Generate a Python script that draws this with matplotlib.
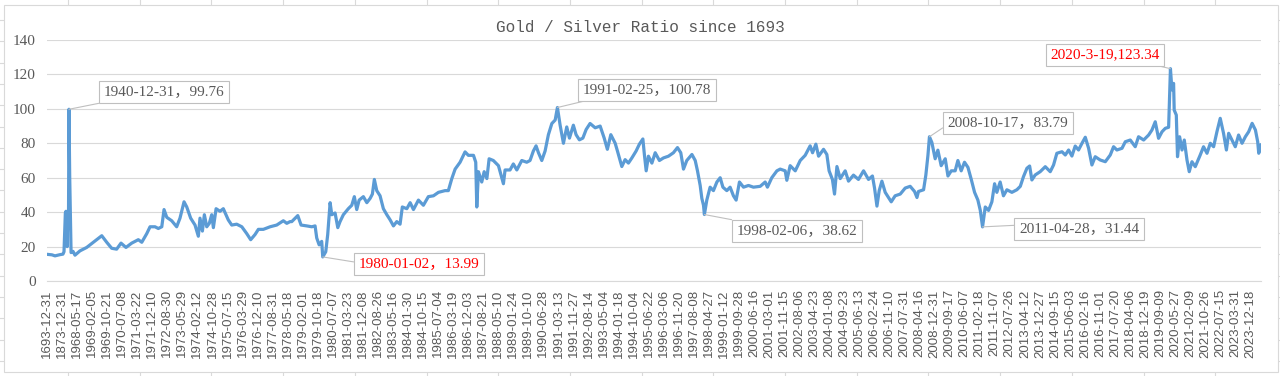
import matplotlib
matplotlib.use('Agg')
import matplotlib.pyplot as plt
from matplotlib.lines import Line2D
from matplotlib.patches import Rectangle


W, H = 1280, 376

# ~~~~~~ Data ~~~~~~~~~~~~~~~~~~~~~~~~~~~~~~~~~~~~~~~~~~~~~~~~~~~~~~~~~~~~~~~~~

tick_dates = [
    '1693-12-31', '1873-12-31', '1968-05-17', '1969-02-05', '1969-10-21',
    '1970-07-08', '1971-03-22', '1971-12-10', '1972-08-30', '1973-05-29',
    '1974-02-12', '1974-10-28', '1975-07-15', '1976-03-29', '1976-12-10',
    '1977-08-31', '1978-05-18', '1979-02-01', '1979-10-18', '1980-07-07',
    '1981-03-23', '1981-12-08', '1982-08-26', '1983-05-16', '1984-01-30',
    '1984-10-15', '1985-07-04', '1986-03-19', '1986-12-03', '1987-08-21',
    '1988-05-10', '1989-01-24', '1989-10-10', '1990-06-28', '1991-03-13',
    '1991-11-27', '1992-08-14', '1993-05-04', '1994-01-18', '1994-10-04',
    '1995-06-22', '1996-03-06', '1996-11-20', '1997-08-08', '1998-04-27',
    '1999-01-12', '1999-09-28', '2000-06-16', '2001-03-01', '2001-11-15',
    '2002-08-06', '2003-04-23', '2004-01-08', '2004-09-23', '2005-06-13',
    '2006-02-24', '2006-11-10', '2007-07-31', '2008-04-16', '2008-12-31',
    '2009-09-17', '2010-06-07', '2011-02-18', '2011-11-07', '2012-07-26',
    '2013-04-12', '2013-12-27', '2014-09-15', '2015-06-03', '2016-02-16',
    '2016-11-01', '2017-07-20', '2018-04-06', '2018-12-19', '2019-09-09',
    '2020-05-27', '2021-02-09', '2021-10-26', '2022-07-15', '2023-03-31',
    '2023-12-18',
]

# position on the category axis (in units of tick labels) and ratio value
pos = [
    0, 0.33, 0.53, 0.86, 1.06, 1.13, 1.22, 1.26, 1.31, 1.34, 1.38, 1.43, 1.46,
    1.51, 1.55, 1.60, 1.73, 1.86, 2.19, 2.64, 3.08, 3.64, 3.97, 4.30, 4.63,
    4.92, 5.25, 5.63, 6.07, 6.30, 6.63, 6.85, 7.18, 7.40, 7.63, 7.78, 7.96,
    8.29, 8.62, 8.84, 9.11, 9.29, 9.55, 9.84, 10.06, 10.17, 10.33, 10.46,
    10.62, 10.79, 10.95, 11.06, 11.24, 11.50, 11.72, 12.05, 12.28, 12.61,
    12.95, 13.28, 13.54, 13.83, 14.05, 14.38, 14.83, 15.27, 15.71, 15.94,
    16.16, 16.27, 16.67, 16.89, 17.27, 17.60, 17.82, 17.93, 18.09, 18.26,
    18.33, 18.53, 18.66, 18.82, 18.93, 19.15, 19.33, 19.48, 19.70, 20.03,
    20.26, 20.43, 20.59, 20.75, 21.03, 21.26, 21.48, 21.63, 21.76, 21.92,
    22.14, 22.36, 22.59, 22.81, 23.03, 23.25, 23.47, 23.62, 23.92, 24.14,
    24.36, 24.69, 25.02, 25.35, 25.69, 26.02, 26.46, 26.68, 26.91, 27.13,
    27.46, 27.79, 28.01, 28.35, 28.50, 28.57, 28.68, 28.90, 29.06, 29.24,
    29.39, 29.67, 30.01, 30.34, 30.45, 30.78, 31.00, 31.23, 31.56, 31.89,
    32.11, 32.33, 32.51, 32.67, 32.89, 33.11, 33.33, 33.56, 33.78, 33.93,
    34.11, 34.33, 34.55, 34.73, 34.99, 35.17, 35.39, 35.62, 35.84, 36.10,
    36.44, 36.77, 37.04, 37.25, 37.48, 37.77, 37.92, 38.21, 38.43, 38.65,
    38.88, 39.16, 39.38, 39.61, 39.71, 39.83, 39.98, 40.21, 40.43, 40.71,
    40.98, 41.31, 41.64, 41.91, 42.13, 42.31, 42.53, 42.87, 43.09, 43.24,
    43.42, 43.53, 43.64, 43.70, 43.86, 44.08, 44.30, 44.53, 44.75, 44.93,
    45.19, 45.41, 45.63, 45.81, 46.03, 46.30, 46.63, 46.96, 47.41, 47.74,
    47.89, 48.18, 48.52, 48.74, 49.07, 49.18, 49.40, 49.74, 50.07, 50.40,
    50.73, 50.89, 51.11, 51.29, 51.62, 51.84, 51.99, 52.21, 52.35, 52.51,
    52.73, 53.06, 53.28, 53.61, 53.94, 54.28, 54.61, 54.87, 55.01, 55.17,
    55.32, 55.50, 55.72, 55.94, 56.12, 56.38, 56.72, 57.05, 57.38, 57.67,
    57.83, 57.93, 58.27, 58.42, 58.56, 58.66, 58.82, 59.04, 59.22, 59.44,
    59.71, 59.89, 60.11, 60.37, 60.55, 60.77, 60.99, 61.22, 61.44, 61.66,
    61.88, 62.04, 62.19, 62.37, 62.59, 62.81, 62.99, 63.14, 63.36, 63.58,
    63.81, 64.14, 64.47, 64.70, 64.91, 65.14, 65.32, 65.47, 65.69, 66.02,
    66.36, 66.69, 66.91, 67.13, 67.47, 67.69, 67.91, 68.13, 68.35, 68.57,
    68.80, 69.02, 69.24, 69.46, 69.68, 70.01, 70.35, 70.68, 70.90, 71.12,
    71.46, 71.68, 72.01, 72.34, 72.56, 72.90, 73.23, 73.45, 73.67, 73.89,
    74.12, 74.34, 74.56, 74.68, 74.78, 74.89, 74.93, 75.07, 75.15, 75.29,
    75.45, 75.60, 75.78, 75.93, 76.11, 76.33, 76.66, 76.88, 77.11, 77.33,
    77.55, 77.77, 77.99, 78.21, 78.40, 78.55, 78.77, 78.99, 79.21, 79.44,
    79.66, 79.88, 80.11, 80.33, 80.48, 80.55, 80.70,
]

ratio = [
    15.5, 15.2, 14.6, 15.3, 15.6, 17.0, 39.5, 40.5, 30.0, 20.0, 40.0, 38.0, 99.76,
    60.0, 40.0, 16.5, 17.2, 15.0, 17.5, 19.5, 22.5, 26.3, 22.5, 19.0, 18.5,
    22.0, 19.5, 22.0, 24.0, 22.5, 27.5, 31.5, 31.5, 30.5, 31.5, 41.5, 37.0,
    35.0, 31.5, 36.5, 46.0, 43.0, 36.5, 32.5, 26.0, 36.5, 29.0, 38.5,
    31.5, 33.5, 38.5, 31.0, 42.0, 40.5, 42.0, 35.5, 32.5, 33.0,
    31.5, 27.5, 24.0, 27.0, 30.0, 30.0, 31.5, 32.5, 35.0, 33.5,
    34.5, 34.5, 38.0, 32.5, 32.0, 31.5, 32.0, 25.0, 21.0, 23.0,
    13.99, 17.0, 27.0, 45.5, 38.5, 39.5, 31.0, 34.5, 38.5, 42.0,
    44.0, 49.0, 41.5, 47.0, 49.0, 45.5, 48.0, 50.5, 59.0, 52.5,
    49.5, 42.0, 38.5, 35.5, 32.0, 34.5, 33.0, 43.0, 42.0, 45.5,
    41.5, 47.0, 44.0, 49.0, 49.5, 51.5, 52.5, 52.5, 59.5, 65.0,
    69.0, 75.0, 73.0, 73.0, 69.0, 43.0, 63.5, 57.5, 63.5, 59.5,
    71.0, 70.0, 67.0, 56.5, 64.5, 64.5, 68.0, 64.5, 70.0, 69.0,
    70.0, 75.5, 78.5, 74.5, 70.0, 75.5, 85.0, 91.5, 93.5, 100.78,
    90.5, 80.0, 89.5, 83.0, 90.5, 85.0, 82.0, 83.0, 88.0, 91.5,
    89.0, 90.0, 83.0, 76.5, 85.0, 80.0, 75.5, 66.5, 70.5, 68.5,
    71.5, 75.5, 79.5, 82.5, 73.5, 64.0, 72.5, 68.5, 74.5, 70.0,
    71.5, 72.5, 74.5, 77.5, 74.5, 65.0, 70.0, 73.5, 70.0, 64.0,
    55.5, 48.0, 44.0, 38.62, 47.0, 54.5, 52.5, 57.5, 60.0, 54.5,
    52.5, 54.5, 49.5, 47.0, 57.5, 54.5, 55.5, 54.5, 55.0, 57.5,
    54.5, 60.0, 64.0, 65.0, 64.0, 58.5, 67.0, 64.0, 70.0, 73.0,
    78.5, 74.5, 79.5, 72.5, 76.5, 73.5, 64.0, 59.0, 50.5, 66.5,
    59.5, 64.0, 58.0, 61.5, 59.0, 64.0, 59.0, 61.0, 54.0, 43.5,
    52.5, 58.0, 51.5, 48.5, 46.0, 49.5, 50.5, 54.0, 55.0, 52.0,
    48.5, 52.0, 53.0, 61.5, 73.0, 83.79, 80.5, 71.0, 76.0, 67.0,
    71.0, 61.0, 64.0, 64.0, 70.0, 64.0, 69.0, 66.0, 59.0, 51.5,
    47.0, 41.0, 31.44, 43.0, 41.0, 46.0, 56.5, 51.5, 57.5, 49.5,
    53.0, 51.5, 53.0, 55.0, 60.6, 65.5, 66.8, 58.7, 61.6, 63.5,
    66.4, 63.5, 67.4, 74.2, 75.1, 73.2, 76.1, 72.6, 78.4, 76.1,
    80.0, 83.5, 77.1, 67.4, 72.2, 70.3, 69.3, 73.2, 78.0, 76.1,
    77.1, 80.9, 81.9, 78.0, 83.8, 81.9, 84.8, 87.7, 92.5, 82.9,
    86.7, 88.7, 89.3, 123.34, 111.0, 114.8, 99.3, 96.4, 72.2, 83.8,
    76.1, 81.9, 70.3, 63.5, 69.3, 66.4, 73.2, 78.0, 74.2, 80.0,
    78.0, 86.7, 94.5, 85.8, 76.1, 85.8, 81.9, 78.0, 84.8, 80.0,
    83.8, 86.7, 91.6, 87.7, 80.9, 74.2, 79.0,
]

note_text = ['1940-12-31，99.76', '1980-01-02，13.99', '1991-02-25，100.78',
             '1998-02-06，38.62', '2008-10-17，83.79', '2011-04-28，31.44',
             '2020-3-19,123.34']
note_pos = [1.46, 18.33, 33.93, 43.70, 58.66, 62.19, 74.68]
note_val = [99.76, 13.99, 100.78, 38.62, 83.79, 31.44, 123.34]
note_red = [False, True, False, False, False, False, True]

# box centres (pixels from top-left) and where the leader line leaves the box
note_box = [(164, 92), (419, 264), (647, 90), (797, 231), (1008, 123),
            (1079, 229), (1105, 55)]
note_rel = [(0.16, 0), (0, 0.6), (0.16, 0), (0.17, 1), (0, 0.38), (0, 0.8),
            (0.82, 0)]


# ~~~~~~ Figure ~~~~~~~~~~~~~~~~~~~~~~~~~~~~~~~~~~~~~~~~~~~~~~~~~~~~~~~~~~~~~~~

grey = '#595959'
fig = plt.figure(figsize=(W / 100, H / 100), dpi=100, facecolor='white')

# spreadsheet cells peeking out around the chart
for i in range(17):
    x = (68 + 71.7 * i) / W
    fig.add_artist(Line2D([x, x], [0, 1], color='#DADADA', lw=0.8,
                          transform=fig.transFigure, zorder=-3))
    y = 1 - (20 + 21.3 * i) / H
    fig.add_artist(Line2D([0, 1], [y, y], color='#DADADA', lw=0.8,
                          transform=fig.transFigure, zorder=-3))
fig.add_artist(Rectangle((4 / W, 4 / H), 1274 / W, 367 / H, fc='white',
                         ec='#D9D9D9', lw=0.8, transform=fig.transFigure,
                         zorder=-2))

ax = fig.add_axes([47 / W, 1 - 281 / H, (1261 - 47) / W, (281 - 40) / H])
ax.set_facecolor('none')

ax.plot(pos, ratio, color='#5B9BD5', lw=2.3, solid_joinstyle='round', zorder=3)

ax.set_xlim(0, 80.7)
ax.set_ylim(0, 140)
ax.set_yticks(range(0, 141, 20))
ax.set_xticks(range(len(tick_dates)))
ax.set_xticklabels(tick_dates, rotation=90, fontsize=9.5,
                   family='Liberation Sans', color=grey)
for lab in ax.get_yticklabels():
    lab.set_family('Liberation Serif')
    lab.set_fontsize(11)
    lab.set_color(grey)
ax.tick_params(axis='both', length=0)
ax.tick_params(axis='y', pad=8)
ax.tick_params(axis='x', pad=6)
ax.grid(axis='y', color='#D9D9D9', lw=0.8)
for s in ['top', 'right', 'left']:
    ax.spines[s].set_visible(False)
ax.spines['bottom'].set_color('#D9D9D9')
ax.spines['bottom'].set_linewidth(0.8)

fig.text(0.5, 1 - 27 / H, 'Gold / Silver Ratio since 1693', ha='center',
         va='center', fontsize=11.5, family='Liberation Mono', color=grey)

for txt, p, v, red, (cx, cy), rp in zip(note_text, note_pos, note_val,
                                       note_red, note_box, note_rel):
    ax.annotate(txt, xy=(p, v), xycoords='data', xytext=(cx, H - cy),
                textcoords='figure pixels', ha='center', va='center',
                fontsize=11, family=['Liberation Serif', 'Noto Sans CJK SC'],
                color='#FF0000' if red else grey, annotation_clip=False,
                zorder=5,
                bbox=dict(boxstyle='square,pad=0.3', fc='white',
                          ec='#BFBFBF', lw=0.8),
                arrowprops=dict(arrowstyle='-', color='#BFBFBF', lw=0.8,
                                shrinkA=0, shrinkB=0, relpos=rp))

fig.savefig('out.png', dpi=100, facecolor='white')
